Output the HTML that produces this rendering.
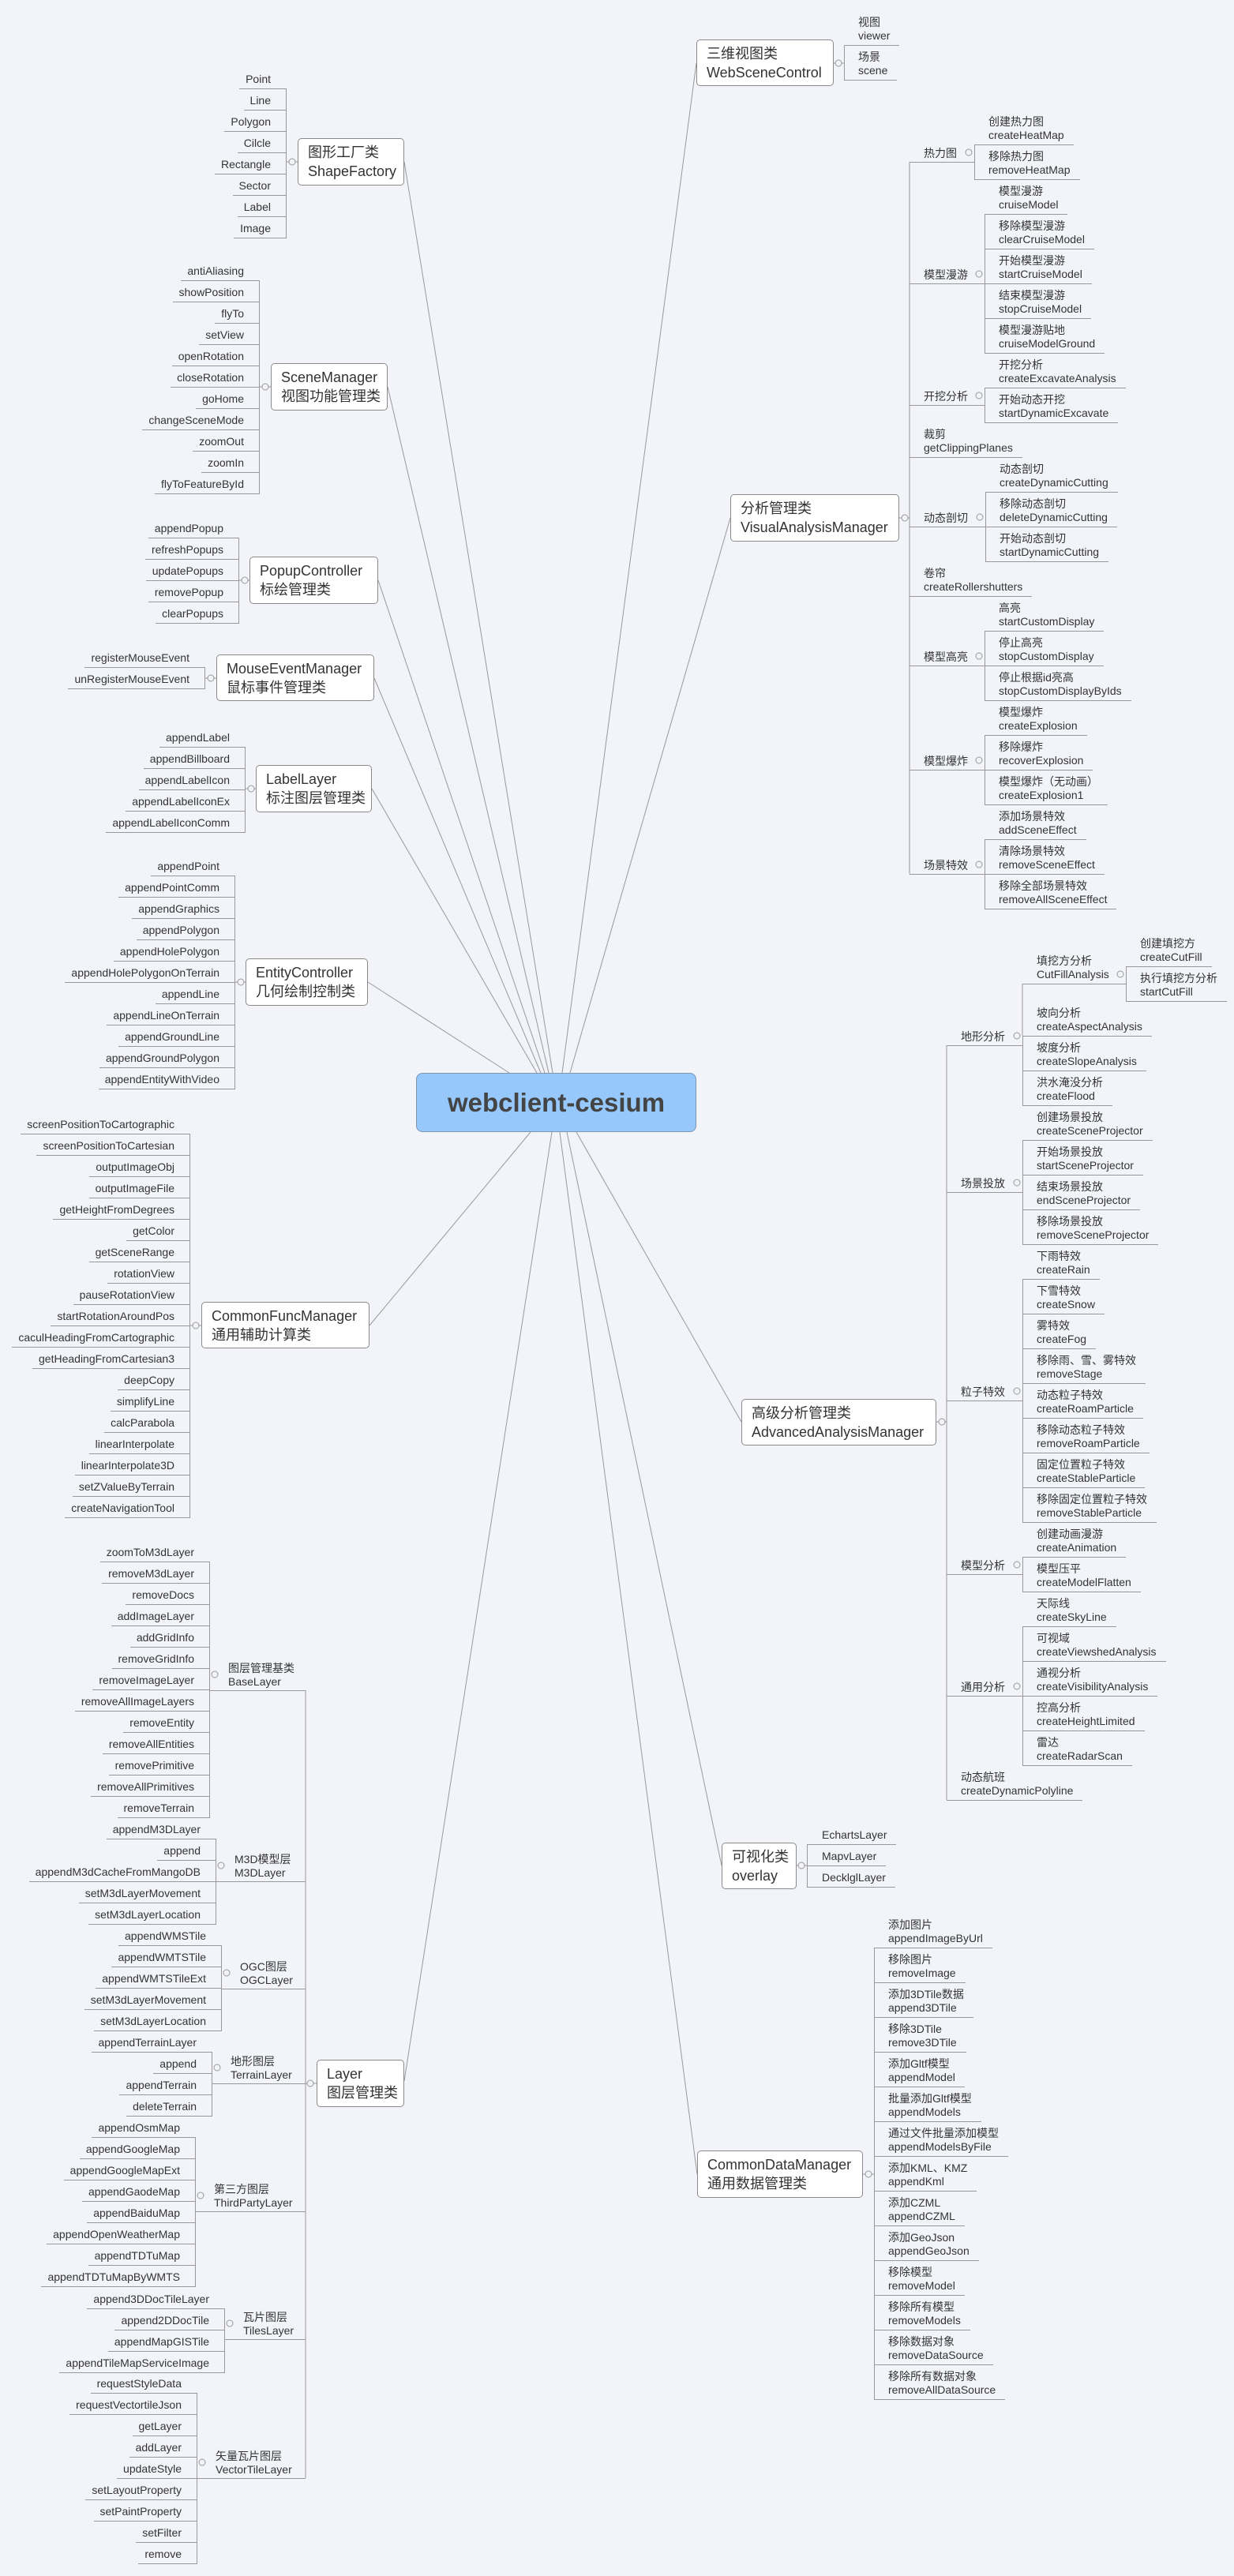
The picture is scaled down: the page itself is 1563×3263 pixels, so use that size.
<!DOCTYPE html>
<html><head><meta charset="utf-8">
<style>
*{box-sizing:border-box;margin:0;padding:0}
body{width:1563px;height:3263px;background:#f2f4f9;position:relative;overflow:hidden;font-family:"Liberation Sans","Noto Sans CJK SC",sans-serif;color:#333;font-size:14px}
svg{position:absolute;left:0;top:0}
.L,.R,.R1,.R0{position:absolute}
.L div{width:fit-content;margin-left:auto;height:27px;border-bottom:1px solid #999;padding:0 20px 0 8px;line-height:28px;white-space:nowrap}
.L::after{content:"";position:absolute;right:0;top:26px;bottom:0;border-right:1px solid #999}
.R div,.R0 div{width:fit-content;height:44px;border-bottom:1px solid #999;padding:6px 12px 0 18px;line-height:17px;white-space:nowrap}
.R::before{content:"";position:absolute;left:0;top:43px;bottom:0;border-left:1px solid #999}
.R1 div{width:fit-content;height:27px;border-bottom:1px solid #999;padding:0 12px 0 19px;line-height:28px;white-space:nowrap}
.R1::before{content:"";position:absolute;left:0;top:26px;bottom:0;border-left:1px solid #999}
.box{position:absolute;background:#fff;border:1px solid #8a8a8a;border-radius:5px;font-size:18px;line-height:24px;padding-left:12px;display:flex;flex-direction:column;justify-content:center;white-space:nowrap;color:#333}
.sl{position:absolute;height:26px;border-bottom:1px solid #999;padding:4px 0 0 18px;line-height:20px;white-space:nowrap}
.s2{position:absolute;height:41px;border-bottom:1px solid #999;padding:4px 0 0 23px;line-height:17px;white-space:nowrap}
.center{position:absolute;left:527px;top:1359px;width:355px;height:75px;background:#96c8fc;border:1px solid #7f95ad;border-radius:8px;font-weight:bold;font-size:33px;color:#444;display:flex;align-items:center;justify-content:center}
</style></head><body>
<svg width="1563" height="3263" stroke="#999" stroke-width="1" fill="none">
<g>
<line x1="700" y1="1359" x2="512" y2="205"/>
<line x1="695" y1="1359" x2="491" y2="490"/>
<line x1="690" y1="1359" x2="479" y2="735"/>
<line x1="685" y1="1359" x2="474" y2="859"/>
<line x1="680" y1="1359" x2="471" y2="999"/>
<line x1="645" y1="1359" x2="466" y2="1244"/>
<line x1="712" y1="1359" x2="882" y2="80"/>
<line x1="722" y1="1359" x2="925" y2="656"/>
<line x1="672" y1="1434" x2="468" y2="1679"/>
<line x1="699" y1="1434" x2="512" y2="2636"/>
<line x1="730" y1="1434" x2="939" y2="1801"/>
<line x1="718" y1="1434" x2="914" y2="2363"/>
<line x1="709" y1="1434" x2="883" y2="2754"/>
<!-- group connectors -->
<line x1="363" y1="205" x2="377" y2="205"/>
<line x1="329" y1="490" x2="343" y2="490"/>
<line x1="303" y1="735" x2="316" y2="735"/>
<line x1="260" y1="859" x2="274" y2="859"/>
<line x1="311" y1="999" x2="324" y2="999"/>
<line x1="298" y1="1244" x2="311" y2="1244"/>
<line x1="241" y1="1679" x2="255" y2="1679"/>
<line x1="387" y1="2141" x2="387" y2="3139"/>
<line x1="387" y1="2639" x2="401" y2="2639"/>
<line x1="1056" y1="80" x2="1069" y2="80"/>
<line x1="1139" y1="656" x2="1152" y2="656"/>
<line x1="1152" y1="205" x2="1152" y2="1107"/>
<line x1="1186" y1="1801" x2="1199" y2="1801"/>
<line x1="1199" y1="1324" x2="1199" y2="2280"/>
<line x1="1295" y1="1246" x2="1295" y2="1312"/>
<line x1="1009" y1="2363" x2="1022" y2="2363"/>
<line x1="1093" y1="2754" x2="1107" y2="2754"/>
</g>
<g fill="#f2f4f9">
<circle cx="370" cy="205" r="4"/><circle cx="336" cy="490" r="4"/><circle cx="310" cy="735" r="4"/><circle cx="267" cy="859" r="4"/><circle cx="318" cy="999" r="4"/><circle cx="305" cy="1244" r="4"/><circle cx="248" cy="1679" r="4"/>
<circle cx="272" cy="2121" r="4"/><circle cx="280" cy="2363" r="4"/><circle cx="287" cy="2499" r="4"/><circle cx="275" cy="2619" r="4"/><circle cx="254" cy="2781" r="4"/><circle cx="291" cy="2943" r="4"/><circle cx="256" cy="3119" r="4"/><circle cx="393" cy="2639" r="4"/>
<circle cx="1062" cy="80" r="4"/><circle cx="1146" cy="656" r="4"/>
<circle cx="1227" cy="193" r="4"/><circle cx="1240" cy="347" r="4"/><circle cx="1240" cy="501" r="4"/><circle cx="1241" cy="655" r="4"/><circle cx="1240" cy="831" r="4"/><circle cx="1240" cy="963" r="4"/><circle cx="1240" cy="1095" r="4"/>
<circle cx="1193" cy="1801" r="4"/><circle cx="1288" cy="1312" r="4"/><circle cx="1288" cy="1498" r="4"/><circle cx="1288" cy="1762" r="4"/><circle cx="1288" cy="1982" r="4"/><circle cx="1288" cy="2136" r="4"/><circle cx="1419" cy="1234" r="4"/>
<circle cx="1015" cy="2363" r="4"/><circle cx="1100" cy="2754" r="4"/>
</g>
</svg>

<div class="center">webclient-cesium</div>

<!-- LEFT -->
<div class="L" style="right:1200px;top:86px"><div>Point</div><div>Line</div><div>Polygon</div><div>Cilcle</div><div>Rectangle</div><div>Sector</div><div>Label</div><div>Image</div></div>
<div class="box" style="left:377px;top:175px;width:135px;height:60px"><span>图形工厂类</span><span>ShapeFactory</span></div>

<div class="L" style="right:1234px;top:329px"><div>antiAliasing</div><div>showPosition</div><div>flyTo</div><div>setView</div><div>openRotation</div><div>closeRotation</div><div>goHome</div><div>changeSceneMode</div><div>zoomOut</div><div>zoomIn</div><div>flyToFeatureById</div></div>
<div class="box" style="left:343px;top:460px;width:148px;height:60px"><span>SceneManager</span><span>视图功能管理类</span></div>

<div class="L" style="right:1260px;top:655px"><div>appendPopup</div><div>refreshPopups</div><div>updatePopups</div><div>removePopup</div><div>clearPopups</div></div>
<div class="box" style="left:316px;top:705px;width:163px;height:60px"><span>PopupController</span><span>标绘管理类</span></div>

<div class="L" style="right:1303px;top:819px"><div>registerMouseEvent</div><div>unRegisterMouseEvent</div></div>
<div class="box" style="left:274px;top:829px;width:200px;height:59px"><span>MouseEventManager</span><span>鼠标事件管理类</span></div>

<div class="L" style="right:1252px;top:920px"><div>appendLabel</div><div>appendBillboard</div><div>appendLabelIcon</div><div>appendLabelIconEx</div><div>appendLabelIconComm</div></div>
<div class="box" style="left:324px;top:969px;width:147px;height:60px"><span>LabelLayer</span><span>标注图层管理类</span></div>

<div class="L" style="right:1265px;top:1083px"><div>appendPoint</div><div>appendPointComm</div><div>appendGraphics</div><div>appendPolygon</div><div>appendHolePolygon</div><div>appendHolePolygonOnTerrain</div><div>appendLine</div><div>appendLineOnTerrain</div><div>appendGroundLine</div><div>appendGroundPolygon</div><div>appendEntityWithVideo</div></div>
<div class="box" style="left:311px;top:1214px;width:155px;height:60px"><span>EntityController</span><span>几何绘制控制类</span></div>

<div class="L" style="right:1322px;top:1410px"><div>screenPositionToCartographic</div><div>screenPositionToCartesian</div><div>outputImageObj</div><div>outputImageFile</div><div>getHeightFromDegrees</div><div>getColor</div><div>getSceneRange</div><div>rotationView</div><div>pauseRotationView</div><div>startRotationAroundPos</div><div>caculHeadingFromCartographic</div><div>getHeadingFromCartesian3</div><div>deepCopy</div><div>simplifyLine</div><div>calcParabola</div><div>linearInterpolate</div><div>linearInterpolate3D</div><div>setZValueByTerrain</div><div>createNavigationTool</div></div>
<div class="box" style="left:255px;top:1649px;width:213px;height:59px"><span>CommonFuncManager</span><span>通用辅助计算类</span></div>

<!-- LAYER -->
<div class="L" style="right:1297px;top:1952px"><div>zoomToM3dLayer</div><div>removeM3dLayer</div><div>removeDocs</div><div>addImageLayer</div><div>addGridInfo</div><div>removeGridInfo</div><div>removeImageLayer</div><div>removeAllImageLayers</div><div>removeEntity</div><div>removeAllEntities</div><div>removePrimitive</div><div>removeAllPrimitives</div><div>removeTerrain</div></div>
<div class="s2" style="left:266px;top:2101px;width:121px">图层管理基类<br>BaseLayer</div>
<div class="L" style="right:1289px;top:2303px"><div>appendM3DLayer</div><div>append</div><div>appendM3dCacheFromMangoDB</div><div>setM3dLayerMovement</div><div>setM3dLayerLocation</div></div>
<div class="s2" style="left:274px;top:2343px;width:113px">M3D模型层<br>M3DLayer</div>
<div class="L" style="right:1282px;top:2438px"><div>appendWMSTile</div><div>appendWMTSTile</div><div>appendWMTSTileExt</div><div>setM3dLayerMovement</div><div>setM3dLayerLocation</div></div>
<div class="s2" style="left:281px;top:2479px;width:106px">OGC图层<br>OGCLayer</div>
<div class="L" style="right:1294px;top:2573px"><div>appendTerrainLayer</div><div>append</div><div>appendTerrain</div><div>deleteTerrain</div></div>
<div class="s2" style="left:269px;top:2599px;width:118px">地形图层<br>TerrainLayer</div>
<div class="L" style="right:1315px;top:2681px"><div>appendOsmMap</div><div>appendGoogleMap</div><div>appendGoogleMapExt</div><div>appendGaodeMap</div><div>appendBaiduMap</div><div>appendOpenWeatherMap</div><div>appendTDTuMap</div><div>appendTDTuMapByWMTS</div></div>
<div class="s2" style="left:248px;top:2761px;width:139px">第三方图层<br>ThirdPartyLayer</div>
<div class="L" style="right:1278px;top:2898px"><div>append3DDocTileLayer</div><div>append2DDocTile</div><div>appendMapGISTile</div><div>appendTileMapServiceImage</div></div>
<div class="s2" style="left:285px;top:2923px;width:102px">瓦片图层<br>TilesLayer</div>
<div class="L" style="right:1313px;top:3005px"><div>requestStyleData</div><div>requestVectortileJson</div><div>getLayer</div><div>addLayer</div><div>updateStyle</div><div>setLayoutProperty</div><div>setPaintProperty</div><div>setFilter</div><div>remove</div></div>
<div class="s2" style="left:250px;top:3099px;width:137px">矢量瓦片图层<br>VectorTileLayer</div>
<div class="box" style="left:401px;top:2609px;width:111px;height:60px"><span>Layer</span><span>图层管理类</span></div>

<!-- RIGHT: WebSceneControl -->
<div class="box" style="left:882px;top:50px;width:174px;height:59px"><span>三维视图类</span><span>WebSceneControl</span></div>
<div class="R" style="left:1069px;top:14px"><div>视图<br>viewer</div><div>场景<br>scene</div></div>

<!-- VisualAnalysisManager -->
<div class="box" style="left:925px;top:626px;width:214px;height:60px"><span>分析管理类</span><span>VisualAnalysisManager</span></div>
<div class="sl" style="left:1152px;top:180px;width:82px">热力图</div>
<div class="R" style="left:1234px;top:140px"><div>创建热力图<br>createHeatMap</div><div>移除热力图<br>removeHeatMap</div></div>
<div class="sl" style="left:1152px;top:334px;width:95px">模型漫游</div>
<div class="R" style="left:1247px;top:228px"><div>模型漫游<br>cruiseModel</div><div>移除模型漫游<br>clearCruiseModel</div><div>开始模型漫游<br>startCruiseModel</div><div>结束模型漫游<br>stopCruiseModel</div><div>模型漫游贴地<br>cruiseModelGround</div></div>
<div class="sl" style="left:1152px;top:488px;width:95px">开挖分析</div>
<div class="R" style="left:1247px;top:448px"><div>开挖分析<br>createExcavateAnalysis</div><div>开始动态开挖<br>startDynamicExcavate</div></div>
<div class="R0" style="left:1152px;top:536px"><div>裁剪<br>getClippingPlanes</div></div>
<div class="sl" style="left:1152px;top:642px;width:96px">动态剖切</div>
<div class="R" style="left:1248px;top:580px"><div>动态剖切<br>createDynamicCutting</div><div>移除动态剖切<br>deleteDynamicCutting</div><div>开始动态剖切<br>startDynamicCutting</div></div>
<div class="R0" style="left:1152px;top:712px"><div>卷帘<br>createRollershutters</div></div>
<div class="sl" style="left:1152px;top:818px;width:95px">模型高亮</div>
<div class="R" style="left:1247px;top:756px"><div>高亮<br>startCustomDisplay</div><div>停止高亮<br>stopCustomDisplay</div><div>停止根据id亮高<br>stopCustomDisplayByIds</div></div>
<div class="sl" style="left:1152px;top:950px;width:95px">模型爆炸</div>
<div class="R" style="left:1247px;top:888px"><div>模型爆炸<br>createExplosion</div><div>移除爆炸<br>recoverExplosion</div><div>模型爆炸（无动画）<br>createExplosion1</div></div>
<div class="sl" style="left:1152px;top:1082px;width:95px">场景特效</div>
<div class="R" style="left:1247px;top:1020px"><div>添加场景特效<br>addSceneEffect</div><div>清除场景特效<br>removeSceneEffect</div><div>移除全部场景特效<br>removeAllSceneEffect</div></div>

<!-- AdvancedAnalysisManager -->
<div class="box" style="left:939px;top:1772px;width:247px;height:59px"><span>高级分析管理类</span><span>AdvancedAnalysisManager</span></div>
<div class="sl" style="left:1199px;top:1299px;width:96px">地形分析</div>
<div class="R0" style="left:1295px;top:1203px"><div style="width:131px">填挖方分析<br>CutFillAnalysis</div></div>
<div class="R" style="left:1426px;top:1181px"><div>创建填挖方<br>createCutFill</div><div>执行填挖方分析<br>startCutFill</div></div>
<div class="R" style="left:1295px;top:1269px"><div>坡向分析<br>createAspectAnalysis</div><div>坡度分析<br>createSlopeAnalysis</div><div>洪水淹没分析<br>createFlood</div></div>
<div class="sl" style="left:1199px;top:1485px;width:96px">场景投放</div>
<div class="R" style="left:1295px;top:1401px"><div>创建场景投放<br>createSceneProjector</div><div>开始场景投放<br>startSceneProjector</div><div>结束场景投放<br>endSceneProjector</div><div>移除场景投放<br>removeSceneProjector</div></div>
<div class="sl" style="left:1199px;top:1749px;width:96px">粒子特效</div>
<div class="R" style="left:1295px;top:1577px"><div>下雨特效<br>createRain</div><div>下雪特效<br>createSnow</div><div>雾特效<br>createFog</div><div>移除雨、雪、雾特效<br>removeStage</div><div>动态粒子特效<br>createRoamParticle</div><div>移除动态粒子特效<br>removeRoamParticle</div><div>固定位置粒子特效<br>createStableParticle</div><div>移除固定位置粒子特效<br>removeStableParticle</div></div>
<div class="sl" style="left:1199px;top:1969px;width:96px">模型分析</div>
<div class="R" style="left:1295px;top:1929px"><div>创建动画漫游<br>createAnimation</div><div>模型压平<br>createModelFlatten</div></div>
<div class="sl" style="left:1199px;top:2123px;width:96px">通用分析</div>
<div class="R" style="left:1295px;top:2017px"><div>天际线<br>createSkyLine</div><div>可视域<br>createViewshedAnalysis</div><div>通视分析<br>createVisibilityAnalysis</div><div>控高分析<br>createHeightLimited</div><div>雷达<br>createRadarScan</div></div>
<div class="R0" style="left:1199px;top:2237px"><div>动态航班<br>createDynamicPolyline</div></div>

<!-- overlay -->
<div class="box" style="left:914px;top:2334px;width:95px;height:59px"><span>可视化类</span><span>overlay</span></div>
<div class="R1" style="left:1022px;top:2310px"><div>EchartsLayer</div><div>MapvLayer</div><div>DecklglLayer</div></div>

<!-- CommonDataManager -->
<div class="box" style="left:883px;top:2724px;width:210px;height:60px"><span>CommonDataManager</span><span>通用数据管理类</span></div>
<div class="R" style="left:1107px;top:2424px"><div>添加图片<br>appendImageByUrl</div><div>移除图片<br>removeImage</div><div>添加3DTile数据<br>append3DTile</div><div>移除3DTile<br>remove3DTile</div><div>添加Gltf模型<br>appendModel</div><div>批量添加Gltf模型<br>appendModels</div><div>通过文件批量添加模型<br>appendModelsByFile</div><div>添加KML、KMZ<br>appendKml</div><div>添加CZML<br>appendCZML</div><div>添加GeoJson<br>appendGeoJson</div><div>移除模型<br>removeModel</div><div>移除所有模型<br>removeModels</div><div>移除数据对象<br>removeDataSource</div><div>移除所有数据对象<br>removeAllDataSource</div></div>
</body></html>
